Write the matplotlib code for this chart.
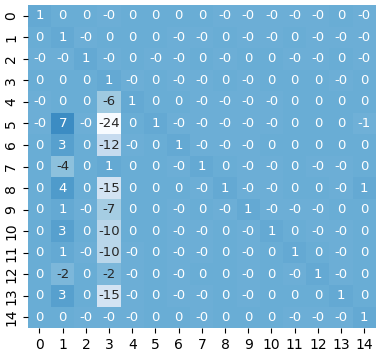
import numpy as np
import matplotlib
matplotlib.use("Agg")
import matplotlib.pyplot as plt
import seaborn as sns

# coefficient matrix; "-0" cells are small negatives
rows = [
    "1 0 0 -0 0 0 0 0 -0 -0 -0 -0 -0 0 -0",
    "0 1 -0 0 0 0 -0 -0 0 -0 -0 0 -0 -0 -0",
    "-0 -0 1 -0 0 -0 -0 0 -0 0 0 -0 -0 0 -0",
    "0 0 0 1 -0 0 -0 -0 0 -0 0 0 0 -0 0",
    "-0 0 0 -6 1 0 0 -0 -0 -0 -0 0 0 0 0",
    "-0 7 -0 -24 0 1 -0 -0 -0 -0 -0 0 0 0 -0.6",
    "0 3 0 -12 -0 0 1 -0 -0 -0 0 0 0 0 0",
    "0 -4 0 1 0 0 -0 1 0 -0 -0 0 -0 -0 0",
    "0 4 0 -15 0 0 0 -0 1 -0 -0 0 0 -0 1",
    "0 1 -0 -7 0 0 -0 0 -0 1 -0 -0 -0 0 0",
    "0 3 0 -10 0 0 -0 -0 0 -0 1 0 -0 -0 0",
    "0 1 -0 -10 -0 0 -0 -0 0 -0 0 1 0 -0 0",
    "0 -2 0 -2 -0 0 -0 0 0 -0 0 -0 1 -0 0",
    "0 3 0 -15 -0 0 -0 -0 0 -0 0 0 0 1 0",
    "0 0 -0 -0 -0 0 0 -0 0 0 0 -0 -0 -0 1",
]


def parse(tok):
    if tok == "-0":
        return -0.1
    if tok == "0":
        return 0.1
    return float(tok)


data = np.array([[parse(t) for t in r.split()] for r in rows])
labels = [str(i) for i in range(15)]

fig = plt.figure(figsize=(3.82, 3.57), dpi=100)
ax = fig.add_axes([0.073, 0.081, 0.911, 0.905])
sns.heatmap(data, ax=ax, cmap="Blues", center=0, annot=True, fmt=".0f",
            cbar=False, xticklabels=labels, yticklabels=labels,
            annot_kws={"fontsize": 9.5})
ax.tick_params(labelsize=10)
fig.savefig("out.png", dpi=100)
